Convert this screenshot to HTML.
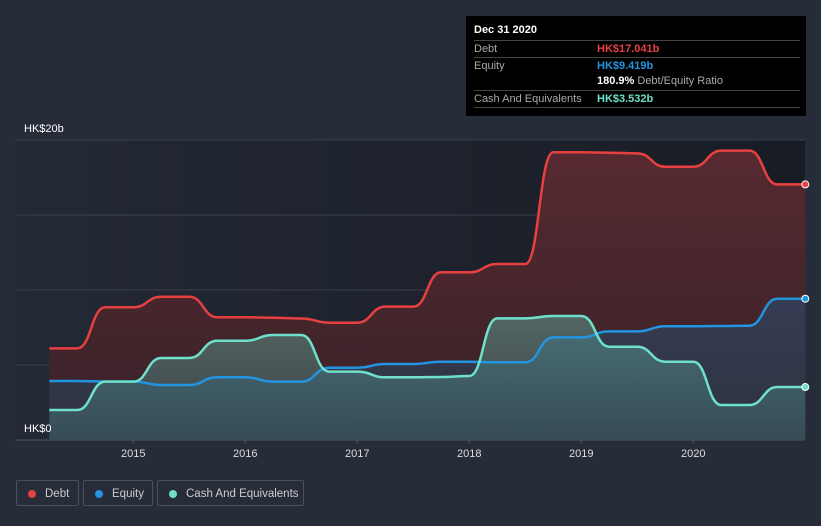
<!DOCTYPE html>
<html><head><meta charset="utf-8">
<style>
body{margin:0;background:#262c38;width:821px;height:526px;overflow:hidden;font-family:"Liberation Sans",sans-serif;}
#wrap{position:relative;width:821px;height:526px;}
svg{position:absolute;left:0;top:0;}
.tip{position:absolute;left:466px;top:16px;width:340px;height:100px;background:#000;color:#fff;font-size:11px;}
.tip .row{position:absolute;left:8px;width:326px;border-top:1px solid #444;height:16px;line-height:16px;}
.lbl{color:#aaa;}
.val{position:absolute;left:123px;top:0;font-weight:bold;}
.legend{position:absolute;top:480px;height:26px;border:1px solid #4a505c;border-radius:2px;color:#ccc;font-size:11.5px;line-height:26px;box-sizing:border-box;white-space:nowrap;}
.legend .dot{position:absolute;left:11px;top:9px;width:8px;height:8px;border-radius:50%;}
.legend span.t{position:absolute;left:28px;white-space:nowrap;}
</style></head><body>
<div id="wrap">
<svg id="chart" width="821" height="526">
<defs>
<linearGradient id="bg" x1="0" y1="0" x2="1" y2="0"><stop offset="0" stop-color="#232935"/><stop offset="1" stop-color="#181c24"/></linearGradient>
<linearGradient id="gd" x1="0" y1="0" x2="0" y2="1"><stop offset="0" stop-color="#5a2a30" stop-opacity="0.95"/><stop offset="1" stop-color="#3a2228" stop-opacity="0.9"/></linearGradient>
<linearGradient id="ge" x1="0" y1="0" x2="0" y2="1"><stop offset="0" stop-color="#33405a" stop-opacity="0.85"/><stop offset="1" stop-color="#2c3444" stop-opacity="0.85"/></linearGradient>
<linearGradient id="gc" x1="0" y1="0" x2="0" y2="1"><stop offset="0" stop-color="#5fa898" stop-opacity="0.5"/><stop offset="1" stop-color="#4a8a90" stop-opacity="0.3"/></linearGradient>
</defs>
<rect x="15" y="140" width="790" height="300" fill="url(#bg)"/>
<g id="grid"></g>
<g id="areas"></g>
<g id="lines"></g>
<g id="axis"></g>
</svg>
<div class="tip">
<div style="position:absolute;left:8px;top:8px;font-weight:bold;font-size:11px;">Dec 31 2020</div>
<div class="row" style="top:24px;"><span class="lbl">Debt</span><span class="val" style="color:#e84040">HK$17.041b</span></div>
<div class="row" style="top:41px;"><span class="lbl">Equity</span><span class="val" style="color:#2394e0">HK$9.419b</span></div>
<div class="row" style="top:57px;border-top:none;"><span class="val" style="color:#fff">180.9% <span style="color:#aaa;font-weight:normal">Debt/Equity Ratio</span></span></div>
<div class="row" style="top:74px;"><span class="lbl">Cash And Equivalents</span><span class="val" style="color:#6ee0cc">HK$3.532b</span></div>
<div class="row" style="top:91px;height:0;"></div>
</div>
<div class="legend" style="left:16px;width:63px;"><div class="dot" style="background:#e84040"></div><span class="t">Debt</span></div>
<div class="legend" style="left:83px;width:70px;"><div class="dot" style="background:#2394e0"></div><span class="t">Equity</span></div>
<div class="legend" style="left:157px;width:147px;"><div class="dot" style="background:#6ee0cc"></div><span class="t">Cash And Equivalents</span></div>
</div>
<script>
const startYear = 2014.25;
const debt = [6.11,6.11,8.85,8.85,9.55,9.55,8.18,8.18,8.15,8.1,7.82,7.82,8.89,8.89,11.18,11.18,11.73,11.73,19.18,19.18,19.15,19.11,18.22,18.22,19.29,19.29,17.04,17.04];
const equity = [3.93,3.93,3.9,3.9,3.67,3.67,4.18,4.18,3.89,3.89,4.82,4.82,5.07,5.07,5.22,5.22,5.18,5.18,6.84,6.84,7.24,7.24,7.58,7.58,7.6,7.62,9.42,9.42];
const cash = [2.0,2.0,3.89,3.89,5.47,5.47,6.62,6.62,7.0,7.0,4.56,4.56,4.18,4.18,4.2,4.27,8.11,8.11,8.27,8.27,6.22,6.22,5.22,5.22,2.33,2.33,3.53,3.53];
const yearTicks = [2015,2016,2017,2018,2019,2020];
const yTicks = [0,5,10,15,20];
const yLabels = ["HK$0","","","","HK$20b"];

const NS="http://www.w3.org/2000/svg";
function xs(t){return 133.3+(t-2015)*112;}
function ys(v){return 440-v*15;}
function mk(tag,attrs,parent){const e=document.createElementNS(NS,tag);for(const k in attrs)e.setAttribute(k,attrs[k]);parent.appendChild(e);return e;}
function pathD(arr){
  let d="";
  arr.forEach((v,i)=>{const x=xs(startYear+i*0.25),y=ys(v);
    if(i===0)d+="M"+x+","+y;
    else{const px=xs(startYear+(i-1)*0.25),py=ys(arr[i-1]);const mx=(px+x)/2;d+=" C"+mx+","+py+" "+mx+","+y+" "+x+","+y;}
  });return d;}
const grid=document.getElementById('grid'),areas=document.getElementById('areas'),lines=document.getElementById('lines'),axis=document.getElementById('axis');
yTicks.forEach((v,i)=>{
  const g=mk('line',{x1:15,x2:805,y1:ys(v),y2:ys(v),stroke:i===0?'#4e5460':'#3a404c','stroke-width':1},grid);
  
  
  if(yLabels[i]){const t=mk('text',{x:24,y:ys(v)-8,fill:'#fff','font-size':11},axis);t.textContent=yLabels[i];
    
    }
});
yearTicks.forEach(yr=>{
  const x=xs(yr);
  const l=mk('line',{x1:x,x2:x,y1:440,y2:444,stroke:'#4e5460'},axis);
  
  
  const t=mk('text',{x:x,y:457,fill:'#ddd','font-size':11,'text-anchor':'middle'},axis);t.textContent=yr;
  
  
});
const x0=xs(startYear),x1=xs(startYear+(debt.length-1)*0.25);
[[debt,'url(#gd)','debt-area'],[equity,'url(#ge)','equity-area'],[cash,'url(#gc)','cash-area']].forEach(([a,f,n])=>{
  const p=mk('path',{d:pathD(a)+" L"+x1+",440 L"+x0+",440 Z",fill:f},areas);
  
  
});
[[debt,'#e84040','debt-line'],[equity,'#2394e0','equity-line'],[cash,'#6ee0cc','cash-line']].forEach(([a,c,n])=>{
  const p=mk('path',{d:pathD(a),fill:'none',stroke:c,'stroke-width':2.5},lines);
  
  
  const dd=mk('circle',{cx:x1,cy:ys(a[a.length-1]),r:3.5,fill:c,stroke:'#fff','stroke-width':1},lines);
  
  
});
</script>
</body></html>
